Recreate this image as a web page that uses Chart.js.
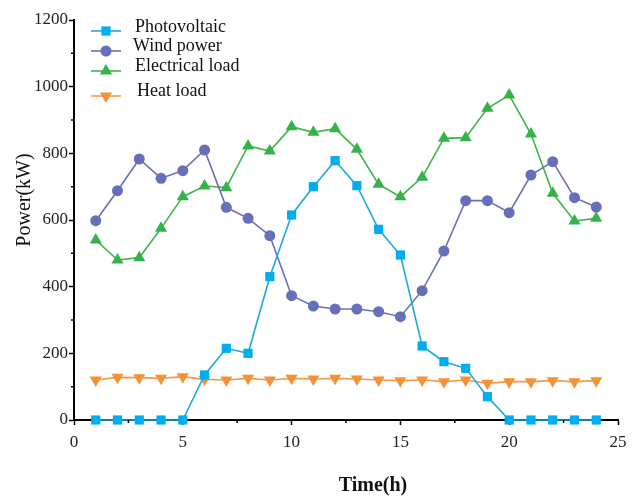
<!DOCTYPE html>
<html>
<head>
<meta charset="utf-8">
<script src="https://cdn.jsdelivr.net/npm/chart.js@4/dist/chart.umd.min.js"></script>
<style>
  html, body { margin: 0; padding: 0; background: #fff; }
  #wrap { width: 644px; height: 497px; }
</style>
</head>
<body>
<div id="wrap"><canvas id="chart" width="644" height="497"></canvas></div>
<script>
const hours = [1, 2, 3, 4, 5, 6, 7, 8, 9, 10, 11, 12, 13, 14, 15, 16, 17, 18, 19, 20, 21, 22, 23, 24];
const photovoltaic = [0, 0, 0, 0, 0, 135, 215, 200, 430, 615, 700, 778, 703, 572, 495, 222, 175, 155, 70, 0, 0, 0, 0, 0];
const windPower = [598, 688, 783, 725, 748, 810, 638, 605, 553, 373, 342, 333, 333, 325, 310, 388, 507, 658, 658, 622, 735, 775, 667, 639];
const electricalLoad = [540, 480, 487, 575, 670, 702, 697, 822, 807, 880, 863, 874, 812, 707, 670, 728, 845, 847, 935, 975, 858, 680, 597, 605];
const heatLoad = [120, 128, 127, 125, 130, 122, 120, 125, 120, 125, 123, 125, 123, 120, 118, 120, 115, 120, 110, 115, 115, 118, 115, 118];
const seriesNames = ['Photovoltaic', 'Wind power', 'Electrical load', 'Heat load'];
const xTicks = [0, 5, 10, 15, 20, 25];
const yTicks = [0, 200, 400, 600, 800, 1000, 1200];

const SERIF = '"Liberation Serif", "Times New Roman", serif';

function pts(values) {
    return hours.map((h, i) => ({ x: h, y: values[i] }));
}

// draws one marker shape, used for the custom legend
function marker(ctx, style, x, y, color) {
    ctx.fillStyle = color;
    ctx.beginPath();
    if (style === 'rect') {
        ctx.rect(x - 4.6, y - 4.6, 9.2, 9.2);
    } else if (style === 'circle') {
        ctx.arc(x, y, 5.5, 0, Math.PI * 2);
    } else if (style === 'up') {
        ctx.moveTo(x, y - 7); ctx.lineTo(x + 6.1, y + 3.5); ctx.lineTo(x - 6.1, y + 3.5);
    } else {
        ctx.moveTo(x, y + 7); ctx.lineTo(x + 6.1, y - 3.5); ctx.lineTo(x - 6.1, y - 3.5);
    }
    ctx.closePath();
    ctx.fill();
}

const decor = {
    id: 'decor',
    afterDraw(chart) {
        const ctx = chart.ctx;
        const xs = chart.scales.x, ys = chart.scales.y;
        ctx.save();
        // minor ticks
        ctx.strokeStyle = '#000';
        ctx.lineWidth = 1.5;
        ctx.beginPath();
        for (let v = 100; v < 1200; v += 200) {
            const p = ys.getPixelForValue(v);
            ctx.moveTo(xs.left - 3, p); ctx.lineTo(xs.left, p);
        }
        for (let v = 2.5; v < 25; v += 5) {
            const p = xs.getPixelForValue(v);
            ctx.moveTo(p, ys.bottom); ctx.lineTo(p, ys.bottom + 3);
        }
        ctx.stroke();

        // axis titles
        ctx.fillStyle = '#111';
        ctx.font = '20px ' + SERIF;
        ctx.textAlign = 'center';
        ctx.textBaseline = 'middle';
        ctx.save();
        ctx.translate(25, 200);
        ctx.rotate(-Math.PI / 2);
        ctx.fillText('Power(kW)', 0, 0);
        ctx.restore();
        ctx.font = 'bold 20px ' + SERIF;
        ctx.fillText('Time(h)', 373, 486);

        // legend
        const rows = [31, 51, 71, 96];
        const textY = [27, 46, 66, 91];
        const textX = [135, 133, 135, 137];
        chart.data.datasets.forEach((ds, i) => {
            ctx.strokeStyle = ds.borderColor;
            ctx.lineWidth = 1.6;
            ctx.beginPath();
            ctx.moveTo(91, rows[i]); ctx.lineTo(121, rows[i]);
            ctx.stroke();
            marker(ctx, ds.legendShape, 106, rows[i], ds.pointBackgroundColor);
            ctx.fillStyle = '#111';
            ctx.font = '18px ' + SERIF;
            ctx.textAlign = 'left';
            ctx.textBaseline = 'middle';
            ctx.fillText(ds.label, textX[i], textY[i]);
        });
        ctx.restore();
    }
};

function lineSet(label, values, color, fill, style, radius, rotation, shape) {
    return {
        label: label,
        data: pts(values),
        borderColor: color,
        backgroundColor: fill,
        pointBackgroundColor: fill,
        pointBorderColor: fill,
        pointBorderWidth: 0,
        pointStyle: style,
        pointRadius: radius,
        pointRotation: rotation,
        borderWidth: 1.6,
        tension: 0,
        clip: false,
        legendShape: shape
    };
}

new Chart(document.getElementById('chart'), {
    type: 'line',
    data: {
        datasets: [
            lineSet(seriesNames[0], photovoltaic, '#1BA9E0', '#00AEEF', 'rect', 6.5, 0, 'rect'),
            lineSet(seriesNames[1], windPower, '#6A70B5', '#6670B8', 'circle', 5.5, 0, 'circle'),
            lineSet(seriesNames[2], electricalLoad, '#3DB54B', '#36B24A', 'triangle', 7, 0, 'up'),
            lineSet(seriesNames[3], heatLoad, '#F39A4A', '#F39237', 'triangle', 7, 180, 'down')
        ]
    },
    options: {
        responsive: false,
        animation: false,
        layout: { padding: { top: 20, right: 26, left: 0, bottom: 0 } },
        plugins: { legend: { display: false }, tooltip: { enabled: false } },
        scales: {
            x: {
                type: 'linear',
                min: 0,
                max: 25,
                afterFit(scale) { scale.height = 77; },
                afterBuildTicks(scale) { scale.ticks = xTicks.map(v => ({ value: v })); },
                border: { color: '#000', width: 2 },
                grid: { drawOnChartArea: false, drawTicks: true, tickLength: 5, tickColor: '#000', tickWidth: 1.5 },
                ticks: { color: '#222', padding: 7, font: { family: SERIF, size: 17 }, callback: v => String(v) }
            },
            y: {
                min: 0,
                max: 1200,
                afterFit(scale) { scale.width = 74; },
                afterBuildTicks(scale) { scale.ticks = yTicks.map(v => ({ value: v })); },
                border: { color: '#000', width: 2 },
                grid: { drawOnChartArea: false, drawTicks: true, tickLength: 5, tickColor: '#000', tickWidth: 1.5 },
                ticks: { color: '#222', padding: 1, font: { family: SERIF, size: 17 }, callback: v => String(v) }
            }
        }
    },
    plugins: [decor]
});
</script>
</body>
</html>
